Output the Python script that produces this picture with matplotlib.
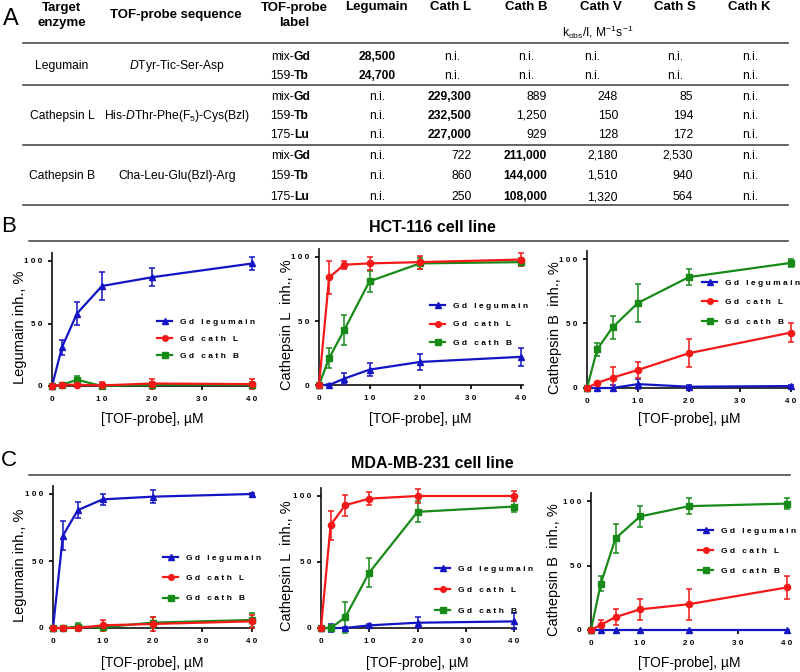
import matplotlib
matplotlib.use("Agg")
import matplotlib.pyplot as plt
from matplotlib.lines import Line2D

plt.rcParams['font.family'] = ['Liberation Sans', 'DejaVu Sans']
plt.rcParams['mathtext.fontset'] = 'custom'
plt.rcParams['mathtext.rm'] = 'Liberation Sans'
plt.rcParams['mathtext.it'] = 'Liberation Sans:italic'
plt.rcParams['mathtext.bf'] = 'Liberation Sans:bold'

# ---- table data (panel A) ----
tbl_cols = ["Legumain", "Cath L", "Cath B", "Cath V", "Cath S", "Cath K"]
tbl_targets = ["Legumain", "Cathepsin L", "Cathepsin B"]
tbl_seqs = [r"$\mathit{D}$Tyr-Tic-Ser-Asp",
            r"His-$\mathit{D}$Thr-Phe(F$_5$)-Cys(Bzl)",
            "Cha-Leu-Glu(Bzl)-Arg"]
tbl_prefix = ["mix-", "159-", "mix-", "159-", "175-", "mix-", "159-", "175-"]
tbl_elem = ["Gd", "Tb", "Gd", "Tb", "Lu", "Gd", "Tb", "Lu"]
tbl_group = [0, 0, 1, 1, 1, 2, 2, 2]
tbl_values = [
    ["28,500", "n.i.", "n.i.", "n.i.", "n.i.", "n.i."],
    ["24,700", "n.i.", "n.i.", "n.i.", "n.i.", "n.i."],
    ["n.i.", "229,300", "889", "248", "85", "n.i."],
    ["n.i.", "232,500", "1,250", "150", "194", "n.i."],
    ["n.i.", "227,000", "929", "128", "172", "n.i."],
    ["n.i.", "722", "211,000", "2,180", "2,530", "n.i."],
    ["n.i.", "860", "144,000", "1,510", "940", "n.i."],
    ["n.i.", "250", "108,000", "1,320", "564", "n.i."],
]

# ---- inhibition data (panels B, C) ----
conc = [0, 2, 5, 10, 20, 40]
series_labels = ["G d   l e g u m a i n", "G d   c a t h   L", "G d   c a t h   B"]
colors = ["#1414C4", "#F41818", "#178A17"]
markers = ["^", "o", "s"]

# rows: Gd legumain, Gd cath L, Gd cath B
hct_legumain = [[0, 31, 58, 80, 87, 98], [0, 1, 1, 0.5, 2, 1.5], [0, 1, 5, 0, 1, 1]]
hct_legumain_err = [[0, 6, 9, 11, 7, 5], [0, 1, 2, 3, 4, 4], [0, 1, 3, 1, 2, 2]]
hct_cathL = [[0, 0, 5, 12, 18, 22], [0, 84, 94, 95, 96, 98], [0, 21, 43, 81, 95, 96]]
hct_cathL_err = [[0, 1, 4, 5, 6, 7], [0, 13, 3, 5, 5, 5], [0, 8, 12, 8, 4, 3]]
hct_cathB = [[0, 0, 0, 3, 1, 1.5], [0, 4, 8, 14, 27, 43], [0, 30, 47, 66, 86, 97]]
hct_cathB_err = [[0, 2, 2, 4, 1, 1], [0, 1, 8, 6, 11, 7], [0, 5, 9, 15, 6, 3]]

mda_legumain = [[0, 69, 88, 96, 98, 100], [0, 0, 0, 2, 3, 5], [0, 0, 1, 0.5, 4, 6]]
mda_legumain_err = [[0, 11, 6, 4, 5, 1], [0, 1, 1, 4, 5, 5], [0, 1, 3, 1, 4, 5]]
mda_cathL = [[0, 0, 0, 2, 4, 5], [0, 78, 93, 98, 100, 100], [0, 0, 8, 42, 88, 92]]
mda_cathL_err = [[0, 3, 1, 1, 4, 6], [0, 11, 8, 5, 5, 4], [0, 2, 12, 11, 8, 4]]
mda_cathB = [[0, 0, 0, 0, 0, 0], [0, 4, 10, 16, 20, 33], [0, 36, 71, 88, 96, 98]]
mda_cathB_err = [[0, 0, 0, 0, 0, 0], [0, 4, 6, 8, 12, 9], [0, 6, 11, 8, 6, 4]]

ylabels = ["Legumain inh., %", "Cathepsin L  inh., %", "Cathepsin B  inh., %"]
xlab = "[TOF-probe], \u00b5M"
xtick_vals = [0, 10, 20, 30, 40]
xtick_txt = ["0", "1 0", "2 0", "3 0", "4 0"]
ytick_vals = [0, 50, 100]
ytick_txt = ["0", "5 0", "1 0 0"]

W, H = 800, 672
fig = plt.figure(figsize=(8, 6.72), dpi=100)

# overlay in pixel coordinates for table / labels
ov = fig.add_axes([0, 0, 1, 1])
ov.set_xlim(0, W)
ov.set_ylim(H, 0)
ov.axis("off")

# ---- panel A: table ----
ov.text(3, 19, "A", fontsize=17, va="center", ha="left")
hdr = dict(fontsize=9.5, fontweight="bold", ha="center", va="center")
ov.text(62, 8, "Target", **hdr)
ov.text(62, 23, "enzyme", **hdr)
ov.text(176, 15, "TOF-probe sequence", **hdr)
ov.text(294, 8, "TOF-probe", **hdr)
ov.text(294, 23, "label", **hdr)
col_center = [377, 452, 526, 592, 675, 750]
col_right = [396, 472, 547, 618, 693, 770]
col_hdr = [376, 451, 526, 601, 675, 749]
for j, c in enumerate(tbl_cols):
    ov.text(col_hdr[j], 7, c, **hdr)
ov.text(598, 32, r"k$_{\mathrm{obs}}$/I, M$^{\mathrm{-1}}$s$^{\mathrm{-1}}$",
        fontsize=8.7, ha="center", va="center")

for yl in [43, 85, 145, 205]:
    ov.add_line(Line2D([23, 788], [yl, yl], color="#3a3a3a", lw=1.1))

row_y = [57, 76, 97, 116, 135, 156, 176, 197]
group_y = [66, 116, 176]
for g in range(3):
    ov.text(62, group_y[g], tbl_targets[g], fontsize=8.7, ha="center", va="center")
    ov.text(177, group_y[g], tbl_seqs[g], fontsize=8.7, ha="center", va="center")
for i in range(len(tbl_prefix)):
    y = row_y[i]
    ov.text(294, y, tbl_prefix[i], fontsize=8.7, ha="right", va="center")
    ov.text(294, y, tbl_elem[i], fontsize=8.7, fontweight="bold", ha="left", va="center")
    for j, v in enumerate(tbl_values[i]):
        bold = "bold" if j == tbl_group[i] else "normal"
        if v == "n.i.":
            ov.text(col_center[j], y, v, fontsize=8.7, ha="center", va="center")
        else:
            ov.text(col_right[j], y, v, fontsize=8.7, fontweight=bold,
                    ha="right", va="center")

# ---- panels B and C ----
ov.text(1, 226, "B", fontsize=16, va="center", ha="left")
ov.text(432, 227, "HCT-116 cell line", fontsize=11.5, fontweight="bold",
        ha="center", va="center")
ov.add_line(Line2D([29, 788], [241, 241], color="#3a3a3a", lw=1.1))
ov.text(1, 461, "C", fontsize=16, va="center", ha="left")
ov.text(432, 463, "MDA-MB-231 cell line", fontsize=11.5, fontweight="bold",
        ha="center", va="center")
ov.add_line(Line2D([29, 790], [475, 475], color="#3a3a3a", lw=1.1))

panels = [
    # (values, errors, px x0, px x40, px y0, px y100, ylabel x, xlabel y, legend x, legend y, spacing)
    (hct_legumain, hct_legumain_err, 52, 252, 386, 261, 27, 412, 157, 318, 1.1),
    (hct_cathL, hct_cathL_err, 319, 521, 385, 257, 294, 412, 430, 302, 1.3),
    (hct_cathB, hct_cathB_err, 587, 791, 388, 259, 562, 412, 702, 279, 1.4),
    (mda_legumain, mda_legumain_err, 53, 252, 628, 494, 27, 656, 163, 554, 1.5),
    (mda_cathL, mda_cathL_err, 321, 514, 628, 496, 294, 656, 435, 565, 1.6),
    (mda_cathB, mda_cathB_err, 591, 787, 630, 501, 561, 656, 698, 527, 1.45),
]

for k, (vals, errs, a, b, c, d, ylx, xly, lgx, lgy, lsp) in enumerate(panels):
    xmax, ymax = 40.4, 106
    rect = [a / W, 1 - c / H, (b - a) * xmax / 40 / W, (c - d) * ymax / 100 / H]
    ax = fig.add_axes(rect)
    ax.patch.set_alpha(0)
    handles = [None, None, None]
    for s in [0, 2, 1]:
        cont = ax.errorbar(conc, vals[s], yerr=errs[s], color=colors[s],
                           marker=markers[s], markersize=4.5, lw=1.6,
                           elinewidth=1.1, capsize=2.5, capthick=1.1,
                           clip_on=False, zorder=3)
        for art in cont.get_children():
            art.set_clip_on(False)
        handles[s] = cont[0]
    ax.set_xlim(0, xmax)
    ax.set_ylim(0, ymax)
    for sp in ["top", "right"]:
        ax.spines[sp].set_visible(False)
    for sp in ["left", "bottom"]:
        ax.spines[sp].set_linewidth(1.3)
        ax.spines[sp].set_color("#222222")
        ax.spines[sp].set_zorder(1)
    ax.set_xticks(xtick_vals)
    ax.set_xticklabels(xtick_txt)
    ax.set_yticks(ytick_vals)
    ax.set_yticklabels(ytick_txt)
    ax.tick_params(direction="out", length=3, width=1.2, labelsize=5.8, pad=4)
    for t in ax.get_xticklabels() + ax.get_yticklabels():
        t.set_fontweight("bold")
    ax.set_ylabel(ylabels[k % 3], fontsize=10.5)
    ax.yaxis.set_label_coords(ylx, (c + d) / 2 + 4, transform=ov.transData)
    ax.set_xlabel(xlab, fontsize=10)
    ax.xaxis.set_label_coords((a + b) / 2, xly, transform=ov.transData)
    ax.legend([handles[0], handles[1], handles[2]], series_labels,
              loc="upper left", bbox_to_anchor=(lgx, lgy),
              bbox_transform=ov.transData, frameon=False,
              prop={"size": 6, "weight": "bold"}, handlelength=1.8,
              handletextpad=1.0, labelspacing=lsp, borderpad=0,
              borderaxespad=0, markerscale=0.9)

fig.savefig("out.png", dpi=100)
